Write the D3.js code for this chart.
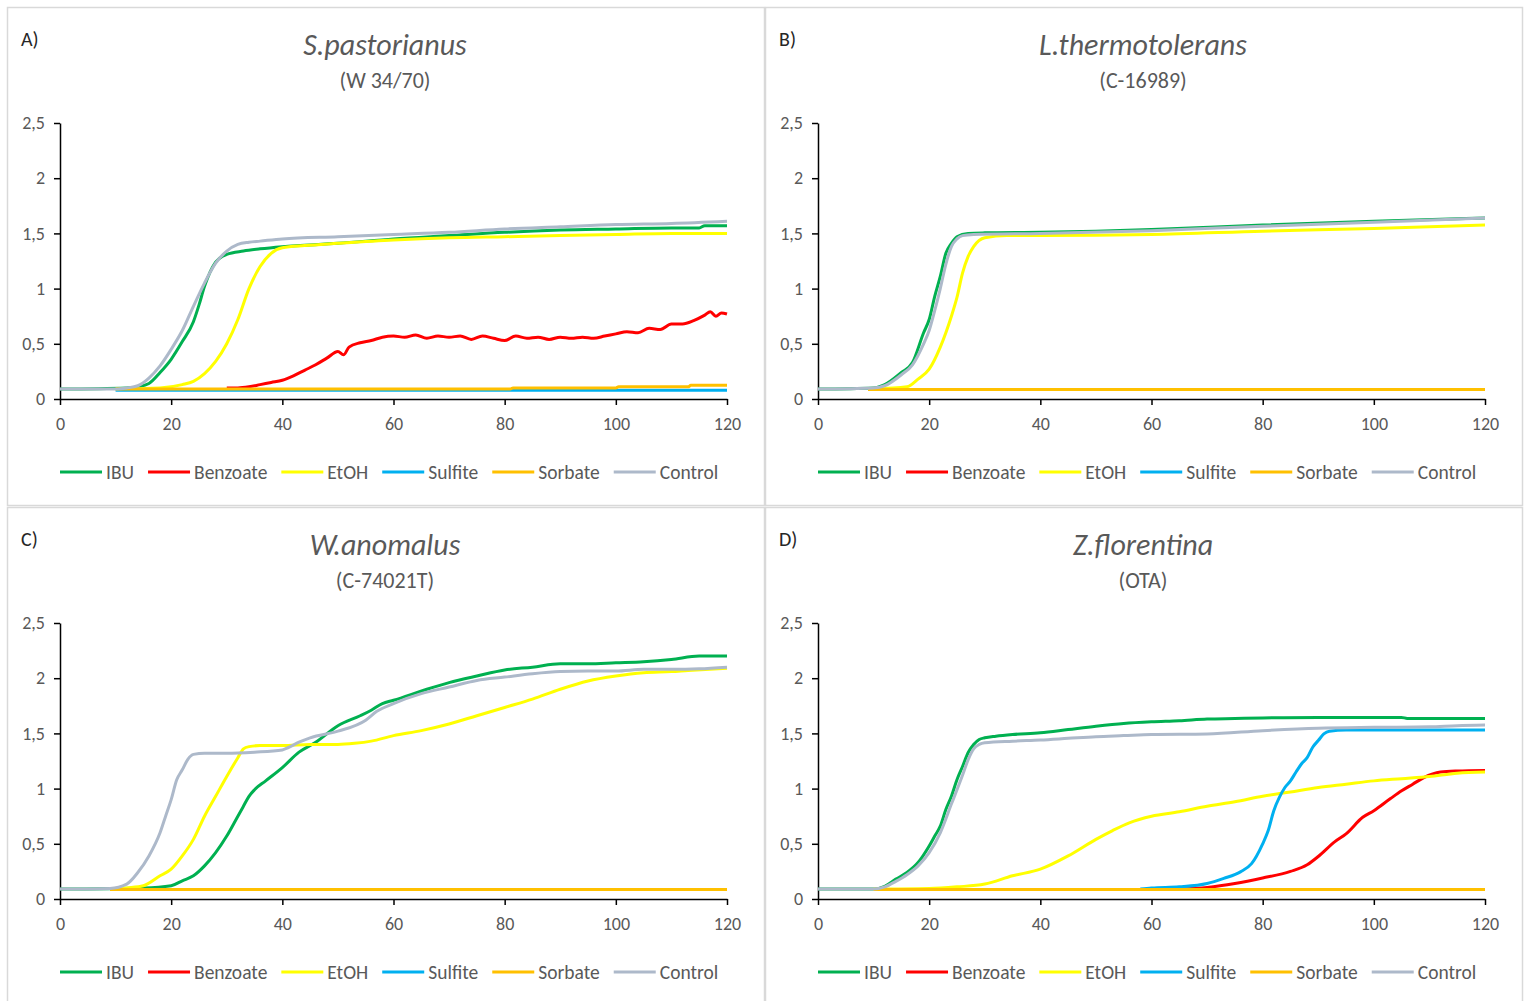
<!DOCTYPE html>
<html>
<head>
<meta charset="utf-8">
<script src="https://cdn.jsdelivr.net/npm/d3@7"></script>
<style>
  body { margin: 0; background: #fff; }
  svg { display: block; font-family: Carlito, Lato, "Open Sans", sans-serif; }
</style>
</head>
<body>
<svg id="chart" width="1524" height="1001"></svg>
<script>
// series names + colours
const seriesNames = ["IBU", "Benzoate", "EtOH", "Sulfite", "Sorbate", "Control"]
const seriesColors = ["#00b050", "#ff0000", "#ffff00", "#00b0f0", "#ffc000", "#adb9ca"]

const xTicks = [0, 20, 40, 60, 80, 100, 120]
const yTicks = [0, 0.5, 1, 1.5, 2, 2.5]

const panelLabels = ["A)", "B)", "C)", "D)"]
const panelTitles = ["S.pastorianus", "L.thermotolerans", "W.anomalus", "Z.florentina"]
const panelStrains = ["(W 34/70)", "(C-16989)", "(C-74021T)", "(OTA)"]

// ---- A) S.pastorianus  [time h, OD]
const ibuA = [[0,0.09],[12,0.10],[14,0.11],[16,0.14],[18,0.24],[20,0.36],[22,0.52],[24,0.70],[25,0.85],[26,1.02],[28,1.24],[30,1.31],[33,1.34],[36,1.36],[40,1.38],[50,1.41],[60,1.45],[70,1.48],[80,1.51],[90,1.53],[100,1.54],[110,1.55],[115,1.55],[116,1.57],[120,1.57]]
const benzA = [[30,0.10],[32,0.10],[34,0.11],[36,0.13],[38,0.15],[40,0.17],[42,0.21],[44,0.26],[46,0.31],[48,0.37],[50,0.43],[51,0.40],[52,0.47],[54,0.51],[56,0.53],[58,0.56],[60,0.57],[62,0.56],[64,0.58],[66,0.55],[68,0.57],[70,0.56],[72,0.57],[74,0.54],[76,0.57],[78,0.55],[80,0.53],[82,0.57],[84,0.55],[86,0.56],[88,0.54],[90,0.56],[92,0.55],[94,0.56],[96,0.55],[98,0.57],[100,0.59],[102,0.61],[104,0.60],[106,0.64],[108,0.63],[110,0.68],[112,0.68],[114,0.71],[116,0.76],[117,0.79],[118,0.75],[119,0.78],[120,0.77]]
const etohA = [[10,0.09],[18,0.10],[22,0.13],[24,0.16],[26,0.23],[28,0.34],[30,0.50],[32,0.72],[34,1.00],[36,1.20],[38,1.32],[40,1.37],[44,1.39],[50,1.41],[60,1.44],[70,1.46],[80,1.47],[90,1.48],[100,1.49],[110,1.50],[120,1.50]]
const sulfA = [[10,0.08],[120,0.08]]
const sorbA = [[10,0.09],[81,0.09],[81.5,0.10],[100,0.10],[100.5,0.11],[113,0.11],[113.5,0.125],[120,0.125]]
const ctrlA = [[0,0.09],[10,0.09],[12,0.10],[14,0.12],[16,0.19],[18,0.30],[20,0.45],[22,0.62],[24,0.84],[26,1.05],[28,1.23],[30,1.34],[32,1.40],[34,1.42],[36,1.43],[40,1.45],[50,1.47],[60,1.49],[70,1.51],[80,1.54],[90,1.56],[100,1.58],[110,1.59],[120,1.61]]

// ---- B) L.thermotolerans
const ibuB = [[0,0.09],[10,0.10],[12,0.13],[15,0.24],[17,0.33],[19,0.60],[20,0.72],[21,0.93],[22,1.11],[23,1.32],[24,1.41],[25,1.47],[27,1.50],[30,1.505],[40,1.51],[50,1.52],[60,1.535],[80,1.575],[100,1.61],[120,1.64]]
const benzB = []
const etohB = [[10,0.09],[16,0.11],[18,0.18],[20,0.27],[22,0.47],[24,0.75],[25,0.92],[26,1.14],[27,1.29],[28,1.38],[30,1.46],[34,1.48],[40,1.48],[60,1.49],[80,1.52],[100,1.545],[120,1.575]]
const sulfB = [[9,0.085],[120,0.085]]
const sorbB = [[9,0.085],[120,0.085]]
const ctrlB = [[0,0.09],[10,0.10],[12,0.12],[15,0.22],[17,0.31],[19,0.50],[20,0.62],[21,0.80],[22,1.00],[23,1.22],[24,1.38],[25,1.45],[26,1.48],[28,1.49],[40,1.50],[60,1.525],[80,1.565],[100,1.60],[120,1.64]]

// ---- C) W.anomalus
const ibuC = [[0,0.09],[15,0.10],[20,0.12],[22,0.165],[24,0.21],[26,0.30],[28,0.42],[30,0.57],[32,0.75],[33,0.84],[34,0.93],[35,0.99],[37,1.07],[40,1.19],[43,1.33],[46,1.42],[50,1.57],[54,1.66],[56,1.71],[58,1.77],[60,1.80],[66,1.90],[70,1.96],[75,2.02],[80,2.075],[85,2.10],[90,2.13],[95,2.13],[100,2.14],[105,2.15],[110,2.17],[115,2.20],[120,2.20]]
const benzC = []
const etohC = [[10,0.09],[12,0.10],[15,0.12],[18,0.21],[20,0.27],[22,0.39],[24,0.54],[26,0.75],[28,0.93],[30,1.11],[32,1.28],[33,1.36],[34,1.38],[36,1.39],[40,1.39],[45,1.40],[50,1.40],[53,1.41],[56,1.43],[60,1.48],[65,1.525],[70,1.585],[75,1.66],[80,1.735],[85,1.81],[90,1.90],[95,1.975],[100,2.02],[105,2.05],[110,2.06],[113,2.07],[120,2.09]]
const sulfC = [[9,0.085],[120,0.085]]
const sorbC = [[9,0.085],[120,0.085]]
const ctrlC = [[0,0.09],[9,0.096],[12,0.135],[14,0.24],[16,0.39],[18,0.60],[19,0.75],[20,0.90],[21,1.08],[22,1.17],[23,1.265],[24,1.31],[26,1.32],[30,1.32],[35,1.33],[40,1.35],[41,1.37],[43,1.42],[45,1.46],[50,1.52],[55,1.62],[57,1.70],[60,1.77],[65,1.86],[70,1.92],[75,1.98],[80,2.01],[85,2.04],[90,2.06],[95,2.065],[100,2.065],[105,2.08],[110,2.08],[115,2.085],[120,2.10]]

// ---- D) Z.florentina
const ibuD = [[0,0.09],[10,0.09],[12,0.115],[14,0.18],[16,0.24],[18,0.33],[20,0.48],[21,0.57],[22,0.66],[23,0.81],[24,0.93],[25,1.08],[26,1.20],[27,1.325],[28,1.40],[29,1.445],[30,1.46],[32,1.475],[35,1.49],[40,1.505],[45,1.535],[50,1.565],[55,1.59],[60,1.605],[65,1.615],[70,1.63],[75,1.635],[80,1.64],[90,1.645],[100,1.645],[105,1.645],[106,1.636],[120,1.636]]
const benzD = [[65,0.09],[70,0.105],[75,0.14],[80,0.19],[85,0.25],[88,0.31],[90,0.385],[93,0.52],[95,0.59],[98,0.74],[100,0.80],[103,0.91],[105,0.98],[107,1.04],[109,1.10],[112,1.15],[115,1.16],[120,1.165]]
const etohD = [[10,0.09],[20,0.095],[25,0.11],[30,0.135],[35,0.21],[40,0.27],[45,0.39],[50,0.54],[53,0.62],[56,0.69],[60,0.75],[65,0.79],[70,0.84],[75,0.88],[80,0.93],[85,0.97],[90,1.01],[95,1.04],[100,1.07],[105,1.09],[110,1.11],[115,1.14],[120,1.15]]
const sulfD = [[58,0.09],[60,0.10],[65,0.11],[70,0.14],[73,0.187],[76,0.246],[78,0.32],[80,0.50],[81,0.62],[82,0.80],[83,0.92],[84,1.01],[85,1.07],[86,1.15],[87,1.225],[88,1.28],[89,1.375],[90,1.435],[91,1.495],[92,1.52],[95,1.53],[120,1.53]]
const sorbD = [[10,0.085],[120,0.085]]
const ctrlD = [[0,0.09],[10,0.09],[12,0.11],[14,0.16],[16,0.22],[18,0.30],[20,0.42],[22,0.60],[24,0.86],[26,1.12],[27,1.26],[28,1.36],[29,1.40],[30,1.415],[35,1.43],[40,1.44],[45,1.455],[50,1.47],[55,1.48],[60,1.49],[70,1.495],[80,1.525],[90,1.547],[100,1.555],[110,1.56],[115,1.57],[120,1.575]]

const panelSeries = [
  [ibuA, benzA, etohA, sulfA, sorbA, ctrlA],
  [ibuB, benzB, etohB, sulfB, sorbB, ctrlB],
  [ibuC, benzC, etohC, sulfC, sorbC, ctrlC],
  [ibuD, benzD, etohD, sulfD, sorbD, ctrlD]
]

/** layout */
const panelW = 758, panelH = 500
const plotLeft = 60, plotRight = 727, plotTop = 123, plotBottom = 399
const textGray = "#595959"

const x = d3.scaleLinear().domain([0, 120]).range([plotLeft, plotRight])
const y = d3.scaleLinear().domain([0, 2.5]).range([plotBottom, plotTop])

const fmt = d => String(d).replace(".", ",")

const line = d3.line()
  .x(d => x(d[0]))
  .y(d => y(d[1]))
  .curve(d3.curveMonotoneX)

const svg = d3.select("#chart")

panelSeries.forEach(function (series, p) {
  const g = svg.append("g")
    .attr("transform", "translate(" + (p % 2) * panelW + "," + Math.floor(p / 2) * panelH + ")")

  // frame
  g.append("rect")
    .attr("x", 7.5).attr("y", 7.5)
    .attr("width", panelW - 1).attr("height", panelH - 2)
    .attr("fill", "#fff")
    .attr("stroke", "#d9d9d9")
    .attr("stroke-width", 1.5)

  g.append("text")
    .attr("x", 21).attr("y", 46)
    .attr("font-size", 20)
    .attr("fill", "#262626")
    .text(panelLabels[p])

  g.append("text")
    .attr("x", 385).attr("y", 55)
    .attr("text-anchor", "middle")
    .attr("font-size", 30)
    .attr("font-style", "italic")
    .attr("fill", textGray)
    .text(panelTitles[p])

  g.append("text")
    .attr("x", 385).attr("y", 88)
    .attr("text-anchor", "middle")
    .attr("font-size", 22)
    .attr("fill", textGray)
    .text(panelStrains[p])

  // axes
  const xAxis = g.append("g")
    .attr("transform", "translate(0," + plotBottom + ")")
    .call(d3.axisBottom(x).tickValues(xTicks).tickSize(6).tickSizeOuter(0).tickPadding(12))
  const yAxis = g.append("g")
    .attr("transform", "translate(" + plotLeft + ",0)")
    .call(d3.axisLeft(y).tickValues(yTicks).tickFormat(fmt).tickSize(6).tickSizeOuter(0).tickPadding(9))

  ;[xAxis, yAxis].forEach(function (a) {
    a.select(".domain").attr("stroke", "#000").attr("stroke-width", 1.5)
    a.selectAll(".tick line").attr("stroke", "#000").attr("stroke-width", 1.5)
    a.selectAll(".tick text")
      .attr("fill", textGray)
      .attr("font-size", 18)
      .attr("font-family", "Carlito, Lato, 'Open Sans', sans-serif")
  })

  // lines (same order as the legend, control on top)
  series.forEach(function (data, i) {
    if (!data.length) return
    g.append("path")
      .datum(data)
      .attr("fill", "none")
      .attr("stroke", seriesColors[i])
      .attr("stroke-width", 3)
      .attr("stroke-linejoin", "round")
      .attr("d", line)
  })

  // legend
  const leg = g.append("g").attr("transform", "translate(0,472)")
  let cx = 60
  seriesNames.forEach(function (name, i) {
    leg.append("line")
      .attr("x1", cx).attr("x2", cx + 42)
      .attr("stroke", seriesColors[i])
      .attr("stroke-width", 3)
    const t = leg.append("text")
      .attr("x", cx + 46).attr("y", 7)
      .attr("font-size", 19.5)
      .attr("fill", textGray)
      .text(name)
    cx += 46 + t.node().getComputedTextLength() + 14
  })
})
</script>
</body>
</html>
